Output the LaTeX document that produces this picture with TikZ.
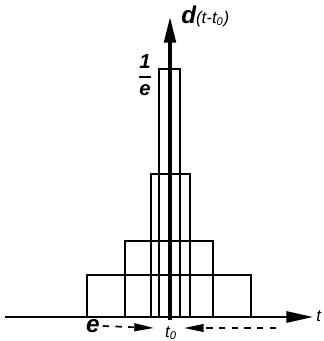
\documentclass[tikz,border=0pt]{standalone}
\usepackage{fontspec}
\setmainfont{Liberation Sans}
\usetikzlibrary{arrows.meta}
\tikzset{
  axis/.style={line width=1.5pt,-{Triangle[length=19pt,width=8pt]}},
  pulse/.style={line width=0.9pt},
  limitarrow/.style={line width=1.2pt,dash pattern=on 4.5pt off 4.5pt,-{Triangle[length=14pt,width=5.5pt]}},
  lbl/.style={inner sep=0pt,font=\itshape}
}
\begin{document}
\begin{tikzpicture}[x=0.025cm,y=-0.025cm]
\useasboundingbox (0,0) rectangle (323,341);
% pulses of equal area
\draw[pulse] (87,317) |- (251,275) -- (251,317);
\draw[pulse] (125,317) |- (213,241) -- (213,317);
\draw[pulse] (151,317) |- (190,174) -- (190,317);
\draw[pulse] (159,317) |- (180,69) -- (180,317);
% axes
\coordinate (xs) at (5,317);
\coordinate (xe) at (313,317);
\coordinate (ys) at (170,320);
\coordinate (ye) at (170,16);
\draw[axis] (xs) -- (xe);
\draw[axis,line width=3pt,-{Triangle[length=19pt,width=8pt]}] (ys) -- (ye);
\node[lbl,anchor=west,font=\large\itshape] (tlab) at (316,316) {t};
\node[lbl,anchor=south west] (dlab) at (181,27) {\textbf{\LARGE d}{\large(t-t\textsubscript{0})}};
\node[lbl,font=\Large\bfseries\itshape] (frac) at (145,75)
  {$\displaystyle{\hbox{1}\above1.4pt\hbox{e}}$};
% limit
\node[lbl,font=\LARGE\bfseries\itshape] (eps) at (93,326) {e};
\node[lbl,anchor=south,font=\large\itshape] (tzero) at (171,340) {t\textsubscript{0}};
\coordinate (lt) at (154,328);
\coordinate (rs) at (276,328);
\coordinate (rt) at (184,328);
\draw[limitarrow] (eps.east) ++(2pt,0) -- (lt);
\draw[limitarrow] (rs) -- (rt);
\end{tikzpicture}
\end{document}
